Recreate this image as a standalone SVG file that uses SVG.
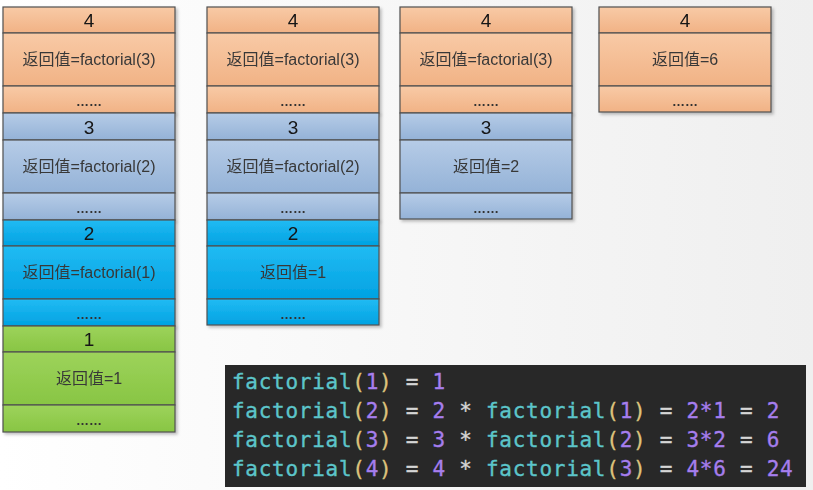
<svg xmlns="http://www.w3.org/2000/svg" width="813" height="490" viewBox="0 0 813 490">
<defs>
<linearGradient id="bg" x1="0" y1="0" x2="1" y2="0"><stop offset="0" stop-color="#FFFFFF"/><stop offset="0.5" stop-color="#F7F7F7"/><stop offset="1" stop-color="#EFEFEF"/></linearGradient>
<linearGradient id="gO" x1="0" y1="0" x2="0" y2="1"><stop offset="0" stop-color="#F8CAA6"/><stop offset="1" stop-color="#F1B285"/></linearGradient>
<linearGradient id="gB" x1="0" y1="0" x2="0" y2="1"><stop offset="0" stop-color="#B6CCE7"/><stop offset="1" stop-color="#94B2D7"/></linearGradient>
<linearGradient id="gC" x1="0" y1="0" x2="0" y2="1"><stop offset="0" stop-color="#22BBF3"/><stop offset="1" stop-color="#00A2E2"/></linearGradient>
<linearGradient id="gG" x1="0" y1="0" x2="0" y2="1"><stop offset="0" stop-color="#9DD35B"/><stop offset="1" stop-color="#88C543"/></linearGradient>
<filter id="sh" x="-5%" y="-5%" width="115%" height="115%"><feDropShadow dx="2" dy="2" stdDeviation="1.5" flood-color="#000" flood-opacity="0.25"/></filter>
</defs>
<style>
.cell{stroke:#505050;stroke-width:1.2}
.o{fill:url(#gO)} .b{fill:url(#gB)} .c{fill:url(#gC)} .g{fill:url(#gG)}
.hd{font-family:"Liberation Sans","Noto Sans CJK SC",sans-serif;font-size:19px;fill:#151515;text-anchor:middle}
.md{font-family:"Liberation Sans","Noto Sans CJK SC",sans-serif;font-size:16px;fill:#383838;text-anchor:middle}
.dt{font-family:"Liberation Sans","Noto Sans CJK SC",sans-serif;font-size:13px;font-weight:bold;fill:#333;text-anchor:middle}
.code{font-family:"DejaVu Sans Mono","Liberation Mono",monospace;font-size:21px;letter-spacing:0.72px;stroke-width:0.35px}
.fn{fill:#5CC5CA;stroke:#5CC5CA} .pa{fill:#DDC27C;stroke:#DDC27C} .nu{fill:#A67EEE;stroke:#A67EEE} .op{fill:#D6D6D6;stroke:#D6D6D6}
</style>
<rect x="0" y="0" width="813" height="490" fill="url(#bg)"/>

<!-- column 1 -->
<g id="c1-f4" filter="url(#sh)">
<rect class="cell o" x="3" y="7" width="172" height="26"/><rect class="cell o" x="3" y="33" width="172" height="53"/><rect class="cell o" x="3" y="86" width="172" height="27"/>
<text class="hd" x="89" y="27">4</text><text class="md" x="89" y="65">返回值=factorial(3)</text><text class="dt" x="89" y="106">……</text>
</g>
<g id="c1-f3" filter="url(#sh)">
<rect class="cell b" x="3" y="113" width="172" height="27"/><rect class="cell b" x="3" y="140" width="172" height="53"/><rect class="cell b" x="3" y="193" width="172" height="27"/>
<text class="hd" x="89" y="133.5">3</text><text class="md" x="89" y="172">返回值=factorial(2)</text><text class="dt" x="89" y="213">……</text>
</g>
<g id="c1-f2" filter="url(#sh)">
<rect class="cell c" x="3" y="220" width="172" height="26"/><rect class="cell c" x="3" y="246" width="172" height="53"/><rect class="cell c" x="3" y="299" width="172" height="27"/>
<text class="hd" x="89" y="239.5">2</text><text class="md" x="89" y="278">返回值=factorial(1)</text><text class="dt" x="89" y="319">……</text>
</g>
<g id="c1-f1" filter="url(#sh)">
<rect class="cell g" x="3" y="326" width="172" height="26"/><rect class="cell g" x="3" y="352" width="172" height="53"/><rect class="cell g" x="3" y="405" width="172" height="27"/>
<text class="hd" x="89" y="345.5">1</text><text class="md" x="89" y="384">返回值=1</text><text class="dt" x="89" y="425">……</text>
</g>

<!-- column 2 -->
<g id="c2-f4" filter="url(#sh)">
<rect class="cell o" x="207" y="7" width="172" height="26"/><rect class="cell o" x="207" y="33" width="172" height="53"/><rect class="cell o" x="207" y="86" width="172" height="27"/>
<text class="hd" x="293" y="27">4</text><text class="md" x="293" y="65">返回值=factorial(3)</text><text class="dt" x="293" y="106">……</text>
</g>
<g id="c2-f3" filter="url(#sh)">
<rect class="cell b" x="207" y="113" width="172" height="27"/><rect class="cell b" x="207" y="140" width="172" height="53"/><rect class="cell b" x="207" y="193" width="172" height="27"/>
<text class="hd" x="293" y="133.5">3</text><text class="md" x="293" y="172">返回值=factorial(2)</text><text class="dt" x="293" y="213">……</text>
</g>
<g id="c2-f2" filter="url(#sh)">
<rect class="cell c" x="207" y="220" width="172" height="26"/><rect class="cell c" x="207" y="246" width="172" height="53"/><rect class="cell c" x="207" y="299" width="172" height="26"/>
<text class="hd" x="293" y="239.5">2</text><text class="md" x="293" y="278">返回值=1</text><text class="dt" x="293" y="319">……</text>
</g>

<!-- column 3 -->
<g id="c3-f4" filter="url(#sh)">
<rect class="cell o" x="400" y="7" width="172" height="26"/><rect class="cell o" x="400" y="33" width="172" height="53"/><rect class="cell o" x="400" y="86" width="172" height="27"/>
<text class="hd" x="486" y="27">4</text><text class="md" x="486" y="65">返回值=factorial(3)</text><text class="dt" x="486" y="106">……</text>
</g>
<g id="c3-f3" filter="url(#sh)">
<rect class="cell b" x="400" y="113" width="172" height="27"/><rect class="cell b" x="400" y="140" width="172" height="53"/><rect class="cell b" x="400" y="193" width="172" height="26"/>
<text class="hd" x="486" y="133.5">3</text><text class="md" x="486" y="172">返回值=2</text><text class="dt" x="486" y="213">……</text>
</g>

<!-- column 4 -->
<g id="c4-f4" filter="url(#sh)">
<rect class="cell o" x="599" y="7" width="172" height="26"/><rect class="cell o" x="599" y="33" width="172" height="53"/><rect class="cell o" x="599" y="86" width="172" height="26"/>
<text class="hd" x="685" y="27">4</text><text class="md" x="685" y="65">返回值=6</text><text class="dt" x="685" y="106">……</text>
</g>

<g id="connectors"/>

<!-- code block -->
<g id="code">
<rect x="225" y="365" width="581" height="122" fill="#282828"/>
<text class="code" x="232" y="389" xml:space="preserve"><tspan class="fn">factorial</tspan><tspan class="pa">(</tspan><tspan class="nu">1</tspan><tspan class="pa">)</tspan><tspan class="op"> = </tspan><tspan class="nu">1</tspan></text>
<text class="code" x="232" y="418" xml:space="preserve"><tspan class="fn">factorial</tspan><tspan class="pa">(</tspan><tspan class="nu">2</tspan><tspan class="pa">)</tspan><tspan class="op"> = </tspan><tspan class="nu">2</tspan><tspan class="op"> * </tspan><tspan class="fn">factorial</tspan><tspan class="pa">(</tspan><tspan class="nu">1</tspan><tspan class="pa">)</tspan><tspan class="op"> = </tspan><tspan class="nu">2*1</tspan><tspan class="op"> = </tspan><tspan class="nu">2</tspan></text>
<text class="code" x="232" y="447" xml:space="preserve"><tspan class="fn">factorial</tspan><tspan class="pa">(</tspan><tspan class="nu">3</tspan><tspan class="pa">)</tspan><tspan class="op"> = </tspan><tspan class="nu">3</tspan><tspan class="op"> * </tspan><tspan class="fn">factorial</tspan><tspan class="pa">(</tspan><tspan class="nu">2</tspan><tspan class="pa">)</tspan><tspan class="op"> = </tspan><tspan class="nu">3*2</tspan><tspan class="op"> = </tspan><tspan class="nu">6</tspan></text>
<text class="code" x="232" y="476" xml:space="preserve"><tspan class="fn">factorial</tspan><tspan class="pa">(</tspan><tspan class="nu">4</tspan><tspan class="pa">)</tspan><tspan class="op"> = </tspan><tspan class="nu">4</tspan><tspan class="op"> * </tspan><tspan class="fn">factorial</tspan><tspan class="pa">(</tspan><tspan class="nu">3</tspan><tspan class="pa">)</tspan><tspan class="op"> = </tspan><tspan class="nu">4*6</tspan><tspan class="op"> = </tspan><tspan class="nu">24</tspan></text>
</g>
</svg>
